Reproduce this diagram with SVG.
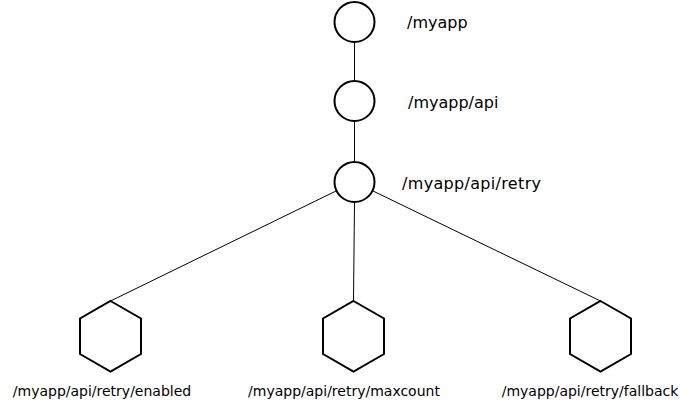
<svg xmlns="http://www.w3.org/2000/svg" width="691" height="402" viewBox="0 0 691 402">
<style>
.n{fill:#fff;stroke:#000;stroke-width:2}
.e{stroke:#000;stroke-width:1;fill:none}
.t{font-family:"DejaVu Sans",Verdana,sans-serif;font-size:14px;fill:#000}
.L{font-size:16px}
</style>
<rect width="691" height="402" fill="#fff"/>
<g id="edges">
<line class="e" x1="354.5" y1="42" x2="354.5" y2="81"/>
<line class="e" x1="354.5" y1="121" x2="354.5" y2="162"/>
<line class="e" x1="354.5" y1="202" x2="353.5" y2="301"/>
<line class="e" x1="336" y1="191" x2="110.5" y2="301"/>
<line class="e" x1="373" y1="191" x2="600.5" y2="301"/>
</g>
<g id="n1"><circle class="n" cx="354.5" cy="22" r="20"/><text class="t L" x="407" y="28">/myapp</text></g>
<g id="n2"><circle class="n" cx="354.5" cy="101" r="20"/><text class="t L" x="408" y="108">/myapp/api</text></g>
<g id="n3"><circle class="n" cx="354.5" cy="182" r="20"/><text class="t L" x="402" y="189" textLength="139">/myapp/api/retry</text></g>
<g id="n4"><polygon class="n" points="110.5,301 141,318.5 141,354 110.5,371.5 80,354 80,318.5"/><text class="t" x="102" y="396" text-anchor="middle">/myapp/api/retry/enabled</text></g>
<g id="n5"><polygon class="n" points="353.5,301 384,318.5 384,354 353.5,371.5 323,354 323,318.5"/><text class="t" x="344" y="396" text-anchor="middle">/myapp/api/retry/maxcount</text></g>
<g id="n6"><polygon class="n" points="600.5,301 631,318.5 631,354 600.5,371.5 570,354 570,318.5"/><text class="t" x="590" y="396" text-anchor="middle">/myapp/api/retry/fallback</text></g>
</svg>
